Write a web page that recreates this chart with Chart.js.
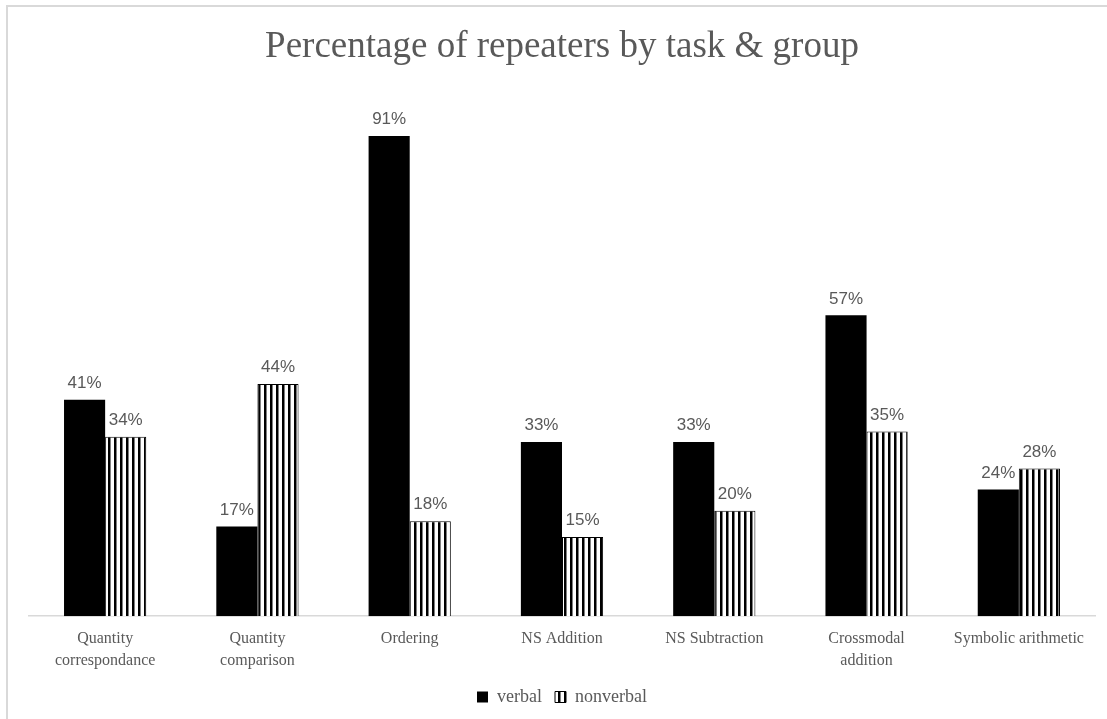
<!DOCTYPE html>
<html>
<head>
<meta charset="utf-8">
<script src="https://cdn.jsdelivr.net/npm/chart.js@4/dist/chart.umd.min.js"></script>
<style>
  html, body { margin: 0; padding: 0; background: #fff; overflow: hidden; }
  #frame {
    position: absolute; left: 6px; top: 5px; width: 1120px; height: 760px;
    border-left: 2px solid #d9d9d9; border-top: 2px solid #d9d9d9;
  }
  #wrap { position: absolute; left: 0; top: 0; width: 1107px; height: 719px; }
</style>
</head>
<body>
<div id="frame"></div>
<div id="wrap"><canvas id="chart"></canvas></div>
<script>
// ---- data ----
const tasks = [
  ["Quantity", "correspondance"],
  ["Quantity", "comparison"],
  "Ordering",
  "NS Addition",
  "NS Subtraction",
  ["Crossmodal", "addition"],
  "Symbolic arithmetic"
];
const verbal = [41, 17, 91, 33, 33, 57, 24];
const nonverbal = [34, 44, 18, 15, 20, 35, 28];

const grey = "#595959";
const serif = "'Liberation Serif', 'Times New Roman', serif";

// vertical stripe pattern for the nonverbal bars
function stripes() {
  const c = document.createElement("canvas");
  c.width = 6; c.height = 6;
  const g = c.getContext("2d");
  g.fillStyle = "#fff";
  g.fillRect(0, 0, 6, 6);
  g.fillStyle = "#000";
  g.fillRect(0, 0, 2.5, 6);
  return g.createPattern(c, "repeat");
}
const ctx = document.getElementById("chart").getContext("2d");
const stripePattern = stripes();

// value labels above the bars
const valueLabels = {
  id: "valueLabels",
  afterDatasetsDraw(chart) {
    const c = chart.ctx;
    c.save();
    c.font = "17px 'Liberation Sans', 'Open Sans', sans-serif";
    c.fillStyle = grey;
    c.textAlign = "center";
    c.textBaseline = "bottom";
    chart.data.datasets.forEach((ds, i) => {
      chart.getDatasetMeta(i).data.forEach((bar, j) => {
        c.fillText(ds.data[j] + "%", bar.x, bar.y - 8);
      });
    });
    c.restore();
  }
};

new Chart(ctx, {
  type: "bar",
  data: {
    labels: tasks,
    datasets: [
      {
        label: "verbal",
        data: verbal,
        backgroundColor: "#000",
        borderColor: "#000",
        borderWidth: 0
      },
      {
        label: "nonverbal",
        data: nonverbal,
        backgroundColor: stripePattern,
        borderColor: "#000",
        borderWidth: 1
      }
    ]
  },
  options: {
    responsive: true,
    maintainAspectRatio: false,
    animation: false,
    categoryPercentage: 0.54,
    barPercentage: 1,
    layout: { padding: { left: 29, right: 12, top: 0, bottom: 3 } },
    scales: {
      x: {
        grid: { display: false },
        border: { display: true, color: "#d9d9d9", width: 1.5 },
        ticks: {
          color: grey,
          padding: 3,
          maxRotation: 0,
          autoSkip: false,
          font: { family: serif, size: 16, lineHeight: 1.4 }
        }
      },
      y: {
        display: false,
        min: 0,
        max: 100
      }
    },
    plugins: {
      title: {
        display: true,
        text: "Percentage of repeaters by task & group",
        color: grey,
        font: { family: serif, size: 37, weight: "normal" },
        padding: { top: 25, bottom: 19 }
      },
      legend: {
        position: "bottom",
        labels: {
          color: grey,
          boxWidth: 11,
          boxHeight: 11,
          padding: 13,
          font: { family: serif, size: 18 }
        }
      },
      tooltip: { enabled: false }
    }
  },
  plugins: [valueLabels]
});
</script>
</body>
</html>
